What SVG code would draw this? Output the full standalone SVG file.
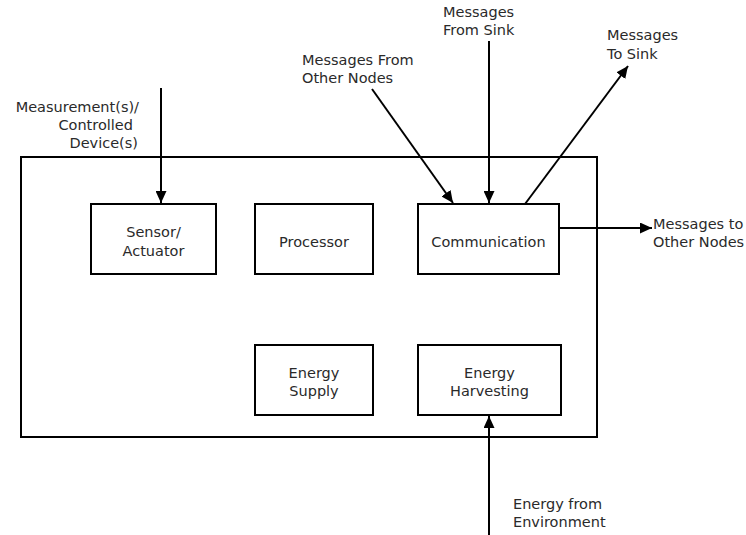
<svg xmlns="http://www.w3.org/2000/svg" width="746" height="535" viewBox="0 0 746 535">
  <style>
    .box { fill: #fff; stroke: #000; stroke-width: 2; }
    .frame { fill: none; stroke: #000; stroke-width: 2; }
    .wire { fill: none; stroke: #000; stroke-width: 2; marker-end: url(#head); }
    text { font-family: "DejaVu Sans", Verdana, sans-serif; font-size: 14.5px; fill: #2a2a2a; }
    .c { text-anchor: middle; }
    .r { text-anchor: end; }
  </style>
  <defs>
    <marker id="head" markerUnits="userSpaceOnUse" markerWidth="13" markerHeight="11" refX="12" refY="5.5" orient="auto">
      <path d="M0,0 L12,5.5 L0,11 Z" fill="#000"/>
    </marker>
  </defs>
  <rect width="746" height="535" fill="#fff"/>

  <!-- sensor node enclosure -->
  <rect id="node-frame" class="frame" x="21" y="157" width="576" height="280"/>

  <g id="sensor">
    <rect class="box" x="91" y="204" width="125" height="70"/>
    <text class="c" x="153.5" y="237">Sensor/</text>
    <text class="c" x="153.5" y="256">Actuator</text>
  </g>
  <g id="processor">
    <rect class="box" x="255" y="204" width="118" height="70"/>
    <text class="c" x="314" y="247">Processor</text>
  </g>
  <g id="communication">
    <rect class="box" x="418" y="204" width="141" height="70"/>
    <text class="c" x="488.5" y="247">Communication</text>
  </g>
  <g id="energy-supply">
    <rect class="box" x="255" y="345" width="118" height="70"/>
    <text class="c" x="314" y="378">Energy</text>
    <text class="c" x="314" y="396">Supply</text>
  </g>
  <g id="energy-harvesting">
    <rect class="box" x="418" y="345" width="143" height="70"/>
    <text class="c" x="489.5" y="378">Energy</text>
    <text class="c" x="489.5" y="396">Harvesting</text>
  </g>

  <g id="connectors">
    <line class="wire" x1="161" y1="88" x2="161" y2="203"/>
    <line class="wire" x1="372" y1="89" x2="453" y2="203"/>
    <line class="wire" x1="489" y1="41" x2="489" y2="203"/>
    <line class="wire" x1="525" y1="204" x2="628" y2="66"/>
    <line class="wire" x1="559" y1="228" x2="652" y2="228"/>
    <line class="wire" x1="489" y1="535" x2="489" y2="416"/>
  </g>

  <g id="labels">
    <text class="r" x="139" y="112">Measurement(s)/</text>
    <text class="r" x="133" y="130">Controlled</text>
    <text class="r" x="138" y="148">Device(s)</text>
    <text x="443" y="17">Messages</text>
    <text x="443" y="35">From Sink</text>
    <text x="302" y="65">Messages From</text>
    <text x="302" y="83">Other Nodes</text>
    <text x="607" y="40">Messages</text>
    <text x="607" y="59">To Sink</text>
    <text x="653" y="229">Messages to</text>
    <text x="653" y="247">Other Nodes</text>
    <text x="513" y="509">Energy from</text>
    <text x="513" y="527">Environment</text>
  </g>
</svg>
